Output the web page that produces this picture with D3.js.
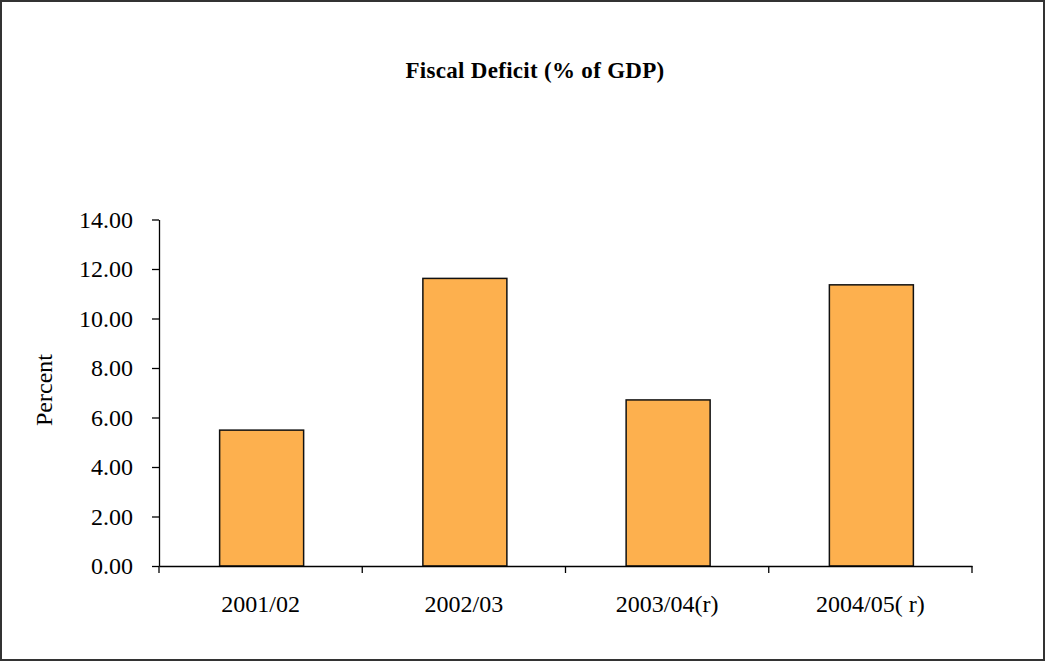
<!DOCTYPE html>
<html><head><meta charset="utf-8">
<script src="https://cdn.jsdelivr.net/npm/d3@7"></script>
<style>body{margin:0;background:#fff}</style>
</head><body>
<script>
const categories = ["2001/02", "2002/03", "2003/04(r)", "2004/05( r)"];
const values = [5.49, 11.62, 6.71, 11.36];
const yTicks = [0, 2, 4, 6, 8, 10, 12, 14];
const title = "Fiscal Deficit (% of GDP)";
const yLabel = "Percent";

(function () {
const W = 1045, H = 662;
const svg = d3.select("body").append("svg").attr("width", W).attr("height", H);
svg.append("rect").attr("x", 1).attr("y", 1).attr("width", W - 2).attr("height", H - 3)
  .attr("fill", "#fff").attr("stroke", "#333").attr("stroke-width", 2);

const pl = 159, pr = 972, pt = 219.5, pb = 566;
const x = d3.scaleBand().domain(categories).range([pl, pr]).paddingInner(0).paddingOuter(0);
const y = d3.scaleLinear().domain([0, 14]).range([pb, pt]);
const font = "'Liberation Serif', 'Times New Roman', serif";

svg.append("text").attr("x", 535).attr("y", 78).attr("text-anchor", "middle")
  .attr("font-family", font).attr("font-weight", "bold").attr("font-size", 23)
  .attr("letter-spacing", 0.3).text(title);

const bw = 84;
svg.selectAll("rect.bar").data(values).join("rect").attr("class", "bar")
  .attr("x", (d, i) => x(categories[i]) + x.bandwidth() / 2 - bw / 2 + 1)
  .attr("y", d => y(d)).attr("width", bw).attr("height", d => y(0) - y(d))
  .attr("fill", "#FDB04E").attr("stroke", "#111").attr("stroke-width", 1.5);

const ya = svg.append("g").attr("transform", `translate(${pl},0)`)
  .call(d3.axisLeft(y).tickValues(yTicks).tickFormat(d3.format(".2f")).tickSize(7).tickSizeOuter(0));
ya.select(".domain").attr("stroke", "#000").attr("stroke-width", 1.3);
ya.selectAll(".tick line").attr("stroke", "#000").attr("stroke-width", 1.3);
ya.selectAll(".tick text").attr("font-family", font).attr("font-size", 24).attr("fill", "#000").attr("x", -26);

const xa = svg.append("g").attr("transform", `translate(0,${pb})`)
  .call(d3.axisBottom(x).tickSize(0).tickSizeOuter(0));
xa.select(".domain").attr("stroke", "#000").attr("stroke-width", 1.3);
xa.selectAll(".tick text").attr("font-family", font).attr("font-size", 24).attr("fill", "#000").attr("dy", 0).attr("y", 46);
const bounds = categories.map(c => x(c)).concat([pr]);
svg.selectAll("line.xt").data(bounds).join("line").attr("class", "xt")
  .attr("x1", d => d).attr("x2", d => d).attr("y1", pb).attr("y2", pb + 7)
  .attr("stroke", "#000").attr("stroke-width", 1.3);

svg.append("text").attr("transform", `translate(52,390) rotate(-90)`)
  .attr("text-anchor", "middle").attr("font-family", font).attr("font-size", 24).text(yLabel);
})();
</script>
</body></html>
